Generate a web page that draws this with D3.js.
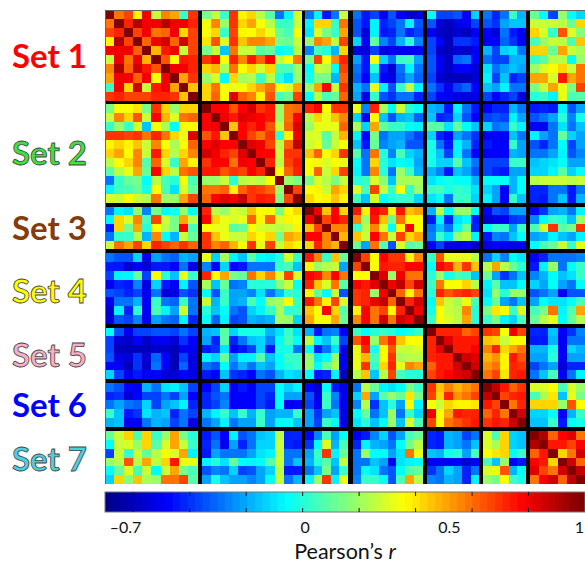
<!DOCTYPE html>
<html>
<head>
<meta charset="utf-8">
<script src="https://cdn.jsdelivr.net/npm/d3@7"></script>
<style>
  html, body { margin: 0; padding: 0; background: #fff; overflow: hidden; }
  svg { display: block; font-family: Lato, "Open Sans", sans-serif; }
</style>
</head>
<body>
<div id="chart"></div>
<script>
const setNames = ['Set 1', 'Set 2', 'Set 3', 'Set 4', 'Set 5', 'Set 6', 'Set 7'];
const setSizes = [10, 11, 5, 8, 6, 5, 6];
const setColors = ['#ff0000', '#3de23d', '#843c0c', '#ffff00', '#f4b0c8', '#0000ff', '#4bd0dc'];
const setOutlined = [false, true, false, true, true, false, true];
const barTickValues = [-0.6, -0.4, -0.2, 0, 0.2, 0.4, 0.6, 0.8];
const barLabelValues = [-0.7, 0, 0.5, 1];

// Correlations. Diagonal blocks hold the upper triangle, the matrix is symmetric.
const b11 = [
  [1, .58, .66, .38, .79, .28, .55, .52, .02, .70],
  [1, .72, .92, .79, .79, .92, .79, .79, .72],
  [1, .68, .79, .60, .62, .79, .43, .68],
  [1, .62, .79, .85, .62, .85, .66],
  [1, .48, .76, .79, .28, .66],
  [1, .64, .36, .75, .72],
  [1, .80, .79, .72],
  [1, .52, .70],
  [1, .46],
  [1]
];
const b12 = [
  [.15, .28, .02, .70, .38, .43, .25, .08, -.28, -.08, .30],
  [.34, .55, .20, .70, .42, .50, .36, .25, .03, .03, .28],
  [.36, .42, .02, .68, .38, .36, .42, .32, .10, .05, .36],
  [.40, .65, .30, .70, .46, .55, .55, .50, .15, .12, .28],
  [.13, .26, -.15, .58, .28, .28, .08, .10, -.06, -.02, .25],
  [.70, .78, .36, .72, .55, .75, .62, .78, .25, .34, .60],
  [.44, .48, .22, .58, .36, .42, .30, .44, .05, .05, .20],
  [.20, .30, -.05, .44, .22, .25, .03, .24, .00, -.10, .20],
  [.42, .58, .36, .33, .36, .44, .50, .60, .36, .30, .50],
  [.42, .62, .36, .82, .62, .55, .37, .64, .05, .12, .66]
];
const b13 = [
  [-.30, -.07, -.45, -.30, .28],
  [-.08, .42, .42, .03, .58],
  [-.10, .30, .13, .02, .50],
  [.20, .55, .50, .24, .68],
  [-.25, .05, .00, -.18, .42],
  [.15, .68, .36, .55, .72],
  [-.05, .28, .24, -.05, .66],
  [-.03, .15, .15, -.18, .62],
  [.20, .52, .78, .28, .70],
  [-.04, .24, .05, .10, .62]
];
const b14 = [
  [-.30, -.45, -.38, -.50, -.35, -.50, -.58, -.56],
  [-.34, -.46, -.07, -.42, -.36, -.30, -.08, -.35],
  [-.33, -.56, -.08, -.45, -.42, -.28, -.42, -.38],
  [-.12, -.48, .12, -.25, -.36, -.18, .00, -.25],
  [-.53, -.55, -.38, -.53, -.50, -.50, -.50, -.50],
  [-.20, -.46, .36, -.12, -.30, .02, .05, -.20],
  [-.30, -.46, .00, -.45, -.55, -.28, -.08, -.28],
  [-.32, -.48, -.15, -.48, -.53, -.32, -.20, -.32],
  [-.18, -.28, .32, -.08, -.34, .02, .28, -.08],
  [-.20, -.52, .02, -.35, -.40, -.28, -.30, -.42]
];
const b15 = [
  [-.06, -.38, -.38, -.33, -.47, -.12],
  [-.35, -.55, -.62, -.52, -.50, -.38],
  [-.50, -.58, -.62, -.55, -.60, -.50],
  [-.36, -.48, -.60, -.40, -.40, -.45],
  [-.38, -.58, -.60, -.55, -.57, -.50],
  [-.33, -.50, -.58, -.32, -.30, -.48],
  [-.35, -.50, -.58, -.48, -.48, -.55],
  [-.38, -.55, -.60, -.62, -.62, -.56],
  [-.30, -.40, -.50, -.36, -.32, -.48],
  [-.36, -.47, -.50, -.52, -.52, -.52]
];
const b16 = [
  [-.30, -.42, -.28, .03, -.18],
  [-.34, -.40, -.22, -.15, -.15],
  [-.48, -.56, -.30, -.45, -.50],
  [-.50, -.47, -.32, -.40, -.50],
  [-.18, -.36, -.12, -.10, -.30],
  [-.30, -.36, -.38, -.17, -.18],
  [-.09, -.30, -.20, -.15, -.20],
  [-.07, -.36, -.15, -.42, -.38],
  [-.15, -.20, -.07, -.28, -.28],
  [-.38, -.48, -.42, -.36, -.52]
];
const b17 = [
  [.10, -.05, -.38, .20, -.05, -.12],
  [.26, .28, .28, .25, .10, .44],
  [.44, .30, .02, .65, .30, .17],
  [.05, .18, .26, .24, .05, .45],
  [.42, .42, .12, .52, .28, .22],
  [.03, .08, .24, .25, -.04, .18],
  [.20, .30, .36, .44, .28, .58],
  [.50, .52, .30, .76, .52, .60],
  [.15, .26, .50, .33, .15, .68],
  [.00, .02, -.08, .33, .05, .08]
];
const b22 = [
  [1, .78, .78, .64, .78, .85, .70, .74, .18, .60, .62],
  [1, .80, .76, .84, .80, .78, .76, .18, .58, .78],
  [1, .46, .78, .72, .78, .64, .28, .62, .82],
  [1, .78, .68, .60, .70, .00, .38, .80],
  [1, .82, .80, .66, .25, .62, .88],
  [1, .78, .78, .28, .70, .70],
  [1, .72, .24, .68, .74],
  [1, .34, .62, .72],
  [1, .20, .15],
  [1, .68],
  [1]
];
const b23 = [
  [.72, .78, .36, .70, .70],
  [.25, .43, .33, .46, .55],
  [.20, .33, .32, .33, .62],
  [.30, .30, .08, .28, .48],
  [.28, .32, .10, .28, .36],
  [.45, .62, .35, .44, .70],
  [.35, .37, .30, .36, .32],
  [.36, .62, .28, .44, .68],
  [.15, .30, .25, .15, .28],
  [.36, .37, .28, .52, .44],
  [.44, .36, .37, .46, .37]
];
const b24 = [
  [.33, -.25, .72, .22, -.06, .26, .00, -.05],
  [-.12, -.50, .35, -.15, -.35, -.17, -.15, -.32],
  [.22, -.14, .52, .12, .03, .03, -.04, -.08],
  [-.08, -.47, .15, -.30, -.20, -.20, -.30, -.38],
  [-.15, -.44, .10, -.25, -.20, -.18, -.35, -.33],
  [.08, -.30, .60, .00, -.25, .05, -.13, -.18],
  [-.05, -.30, .44, .00, -.09, -.06, -.08, -.20],
  [-.08, -.30, .56, .00, -.28, .20, .04, -.18],
  [.00, .02, .30, .17, -.15, .22, .22, .22],
  [.30, .05, .68, .26, .03, .36, .02, .20],
  [.02, -.15, .30, -.05, .00, .02, .02, -.13]
];
const b25 = [
  [-.18, -.20, -.45, -.08, -.30, -.45],
  [-.15, -.42, -.40, -.12, -.35, -.47],
  [.08, .08, -.10, .10, -.05, -.15],
  [-.14, -.42, -.48, -.20, -.28, -.40],
  [-.02, -.30, -.44, -.08, -.18, -.42],
  [-.02, -.15, -.36, -.07, -.30, -.48],
  [-.02, -.12, -.14, .08, -.15, -.28],
  [-.18, -.25, -.45, -.15, -.20, -.35],
  [-.10, -.05, -.03, -.05, -.05, -.18],
  [.03, .06, -.03, .03, .00, -.10],
  [-.10, -.05, -.30, .03, .03, -.12]
];
const b26 = [
  [-.47, -.42, -.42, -.18, -.30],
  [-.36, -.35, -.38, -.08, -.20],
  [-.14, -.28, -.25, .03, -.08],
  [-.50, -.48, -.47, -.15, -.30],
  [-.44, -.48, -.47, .02, -.20],
  [-.50, -.48, -.47, -.18, -.20],
  [-.36, -.36, -.36, .03, .03],
  [-.36, -.42, -.44, -.20, -.20],
  [-.05, -.05, -.05, -.18, -.04],
  [-.12, -.22, -.50, -.18, -.05],
  [-.08, -.20, -.48, .02, -.15]
];
const b27 = [
  [-.45, -.42, -.45, -.07, -.33, -.20],
  [-.35, -.30, -.20, .00, -.25, -.03],
  [-.48, -.50, -.30, -.10, -.28, -.15],
  [-.07, -.22, -.30, .12, -.12, -.20],
  [-.33, -.42, -.28, -.05, -.38, -.20],
  [-.30, -.30, -.20, -.07, -.35, -.25],
  [-.15, -.12, -.10, -.06, -.20, -.20],
  [-.12, -.13, -.08, .08, -.12, -.06],
  [.25, .27, .27, .27, .25, .27],
  [-.42, -.42, -.30, -.28, -.44, -.30],
  [-.42, -.44, -.30, -.15, -.45, -.18]
];
const b33 = [
  [1, .80, .45, .78, .43],
  [1, .66, .78, .72],
  [1, .55, .55],
  [1, .47],
  [1]
];
const b34 = [
  [.75, .38, .78, .72, .37, .75, .45, .52],
  [.55, .18, .76, .46, .12, .58, .36, .36],
  [.04, .25, .55, .30, -.04, .38, .78, .36],
  [.45, .26, .78, .58, .28, .66, .44, .52],
  [.12, -.20, .58, .08, -.35, .30, .08, .10]
];
const b35 = [
  [-.18, .25, -.05, .18, .18, -.06],
  [-.45, -.08, -.42, -.10, -.05, -.45],
  [-.28, -.15, -.30, -.05, .10, -.42],
  [-.25, .02, -.10, .20, .25, -.07],
  [-.48, -.38, -.52, -.52, -.50, -.60]
];
const b36 = [
  [-.48, -.35, -.38, -.20, -.20],
  [-.58, -.52, -.50, -.40, -.38],
  [-.05, .03, .03, -.20, .02],
  [-.45, -.25, -.28, -.15, -.05],
  [-.52, -.50, -.50, -.52, -.52]
];
const b37 = [
  [-.47, -.40, -.20, -.18, -.28, -.08],
  [-.25, -.05, .03, .00, -.15, .18],
  [.05, .30, .70, .08, .14, .70],
  [-.20, -.18, -.08, -.15, -.22, -.07],
  [-.04, .05, .12, .28, .04, .33]
];
const b44 = [
  [1, .68, .36, .78, .70, .70, .38, .55],
  [1, .36, .74, .72, .72, .78, .78],
  [1, .82, .20, .80, .58, .58],
  [1, .80, .88, .66, .85],
  [1, .62, .38, .60],
  [1, .72, .85],
  [1, .80],
  [1]
];
const b45 = [
  [.03, .65, .33, .33, .33, .25],
  [-.05, .78, .72, .48, .70, .45],
  [.00, .20, -.02, .05, .04, -.15],
  [.03, .58, .36, .36, .42, .25],
  [.00, .72, .64, .70, .72, .68],
  [-.05, .46, .28, .22, .32, .05],
  [-.02, .34, .28, .25, .55, .00],
  [.03, .36, .30, .25, .52, .00]
];
const b46 = [
  [-.30, -.12, -.25, -.05, -.10],
  [.25, .50, .24, .10, .00],
  [.12, -.20, -.40, -.30, -.15],
  [-.07, .08, -.15, -.15, -.06],
  [-.10, .20, .00, .18, .18],
  [-.05, .10, -.20, -.30, -.15],
  [.15, .40, .34, .03, .30],
  [.03, .15, -.07, -.12, .05]
];
const b47 = [
  [-.50, -.42, -.30, -.30, -.30, -.25],
  [-.45, -.08, .20, -.30, -.05, .03],
  [-.25, -.18, -.05, -.15, -.10, .03],
  [-.12, -.20, -.05, -.22, -.30, -.05],
  [-.35, -.30, -.20, -.50, -.35, -.35],
  [-.20, -.05, -.10, -.10, -.05, .05],
  [.05, .15, .58, -.08, .08, .52],
  [.12, .25, .32, -.05, .10, .25]
];
const b55 = [
  [1, .72, .72, .72, .62, .68],
  [1, .84, .74, .74, .76],
  [1, .76, .76, .78],
  [1, .86, .82],
  [1, .85],
  [1]
];
const b56 = [
  [.70, .66, .36, .80, .68],
  [.46, .44, .28, .36, .36],
  [.55, .72, .44, .52, .60],
  [.48, .54, .38, .76, .64],
  [.54, .60, .37, .72, .70],
  [.60, .68, .40, .72, .74]
];
const b57 = [
  [-.42, -.42, -.15, -.50, -.40, -.25],
  [-.44, -.44, -.18, -.50, -.30, -.30],
  [-.18, -.18, -.02, -.50, -.12, -.18],
  [-.20, -.20, .00, -.50, -.20, -.20],
  [-.36, -.30, -.20, -.55, -.42, -.42],
  [-.30, -.15, .05, -.50, -.30, -.08]
];
const b66 = [
  [1, .88, .76, .62, .70],
  [1, .66, .72, .75],
  [1, .58, .72],
  [1, .86],
  [1]
];
const b67 = [
  [.30, .30, .36, .05, .30, .20],
  [.05, .22, .40, -.15, .32, .15],
  [.44, .44, .42, .18, .65, .36],
  [-.12, -.12, -.06, -.50, -.17, .04],
  [-.15, -.15, .03, -.45, -.05, -.02]
];
const b77 = [
  [1, .90, .62, .78, .82, .58],
  [1, .76, .75, .68, .78],
  [1, .42, .60, .85],
  [1, .85, .62],
  [1, .88],
  [1]
];

const blocks = [
  [b11, b12, b13, b14, b15, b16, b17],
  [null, b22, b23, b24, b25, b26, b27],
  [null, null, b33, b34, b35, b36, b37],
  [null, null, null, b44, b45, b46, b47],
  [null, null, null, null, b55, b56, b57],
  [null, null, null, null, null, b66, b67],
  [null, null, null, null, null, null, b77]
];

const width = 585, height = 564;
// the blocks are not quite the same size in the original, so each gets its own band
const colExtents = [[105, 197.7], [202, 301.7], [305, 348], [352.7, 422.7], [427, 479.3], [483.3, 525.7], [530, 585]];
const rowExtents = [[10, 100.7], [104.3, 203], [206.7, 249], [253.3, 323.7], [327.7, 379], [383, 426.7], [431, 484]];
const labelBaselines = [68, 165, 240, 303, 367, 417, 471];

const colBands = setSizes.map((n, k) => d3.scaleBand().domain(d3.range(n)).range(colExtents[k]));
const rowBands = setSizes.map((n, k) => d3.scaleBand().domain(d3.range(n)).range(rowExtents[k]));

// jet, 64 steps, linear in r
const jet = d3.scaleLinear()
  .domain([0, 1 / 8, 3 / 8, 5 / 8, 7 / 8, 1])
  .range(['rgb(0,0,143)', 'rgb(0,0,255)', 'rgb(0,255,255)', 'rgb(255,255,0)', 'rgb(255,0,0)', 'rgb(128,0,0)']);
const color = d3.scaleQuantize().domain([-0.7, 1]).range(d3.quantize(jet, 64));

// expand the blocks into cells, mirrored across the diagonal
const cells = [];
blocks.forEach((line, a) => line.forEach((block, b) => {
  if (!block) return;
  block.forEach((vals, i) => vals.forEach((v, j) => {
    const col = a === b ? i + j : j;
    cells.push({ a, b, row: i, col, v });
    if (a !== b || col !== i) cells.push({ a: b, b: a, row: col, col: i, v });
  }));
}));

const svg = d3.select('#chart').append('svg')
  .attr('width', width)
  .attr('height', height);

const defs = svg.append('defs');
defs.append('filter').attr('id', 'soft')
  .attr('x', 0).attr('y', 0).attr('width', 1).attr('height', 1)
  .append('feGaussianBlur').attr('stdDeviation', 0.5);

// matrix
const matrix = svg.append('g');
matrix.append('rect')
  .attr('x', 105).attr('y', 10)
  .attr('width', 480).attr('height', 474)
  .attr('fill', '#000');

matrix.append('g')
  .attr('filter', 'url(#soft)')
  .selectAll('rect')
  .data(cells)
  .enter().append('rect')
  .attr('x', d => colBands[d.b](d.col))
  .attr('y', d => rowBands[d.a](d.row))
  .attr('width', d => colBands[d.b].bandwidth())
  .attr('height', d => rowBands[d.a].bandwidth())
  .attr('shape-rendering', 'crispEdges')
  .attr('fill', d => color(d.v));

matrix.append('path')
  .attr('d', 'M105.5,484V10.5H585')
  .attr('fill', 'none')
  .attr('stroke', '#666');

// set labels
svg.append('g').selectAll('text')
  .data(setNames)
  .enter().append('text')
  .attr('x', 12)
  .attr('y', (d, i) => labelBaselines[i])
  .attr('font-size', 33)
  .attr('font-weight', 700)
  .attr('fill', (d, i) => setColors[i])
  .attr('stroke', (d, i) => setOutlined[i] ? '#444' : 'none')
  .attr('stroke-width', 0.8)
  .text(d => d);

// colour bar
const barX = d3.scaleLinear().domain([-0.7, 1]).range([105, 585]);
const barTop = 492, barBottom = 512;
const bar = svg.append('g');

bar.selectAll('rect')
  .data(color.range())
  .enter().append('rect')
  .attr('x', d => barX(color.invertExtent(d)[0]))
  .attr('y', barTop)
  .attr('width', d => barX(color.invertExtent(d)[1]) - barX(color.invertExtent(d)[0]) + 0.5)
  .attr('height', barBottom - barTop)
  .attr('fill', d => d);

bar.append('rect')
  .attr('x', 105).attr('y', barTop)
  .attr('width', 480).attr('height', barBottom - barTop)
  .attr('fill', 'none')
  .attr('stroke', '#777');

bar.selectAll('.tick-top')
  .data(barTickValues)
  .enter().append('line')
  .attr('class', 'tick-top')
  .attr('x1', d => barX(d)).attr('x2', d => barX(d))
  .attr('y1', barTop).attr('y2', barTop + 4)
  .attr('stroke', '#111');

bar.selectAll('.tick-bottom')
  .data(barTickValues)
  .enter().append('line')
  .attr('class', 'tick-bottom')
  .attr('x1', d => barX(d)).attr('x2', d => barX(d))
  .attr('y1', barBottom - 4).attr('y2', barBottom)
  .attr('stroke', '#111');

const barAxis = d3.axisBottom(barX)
  .tickValues(barLabelValues)
  .tickSize(0)
  .tickPadding(0)
  .tickFormat(d => d < 0 ? '\u2013' + Math.abs(d) : d);

// the end labels sit inside the bar ends in the original
const labelNudge = { '-0.7': 20, '0': 2, '0.5': 5, '1': -6 };
svg.append('g')
  .attr('transform', `translate(0,${barBottom})`)
  .call(barAxis)
  .call(g => g.select('.domain').remove())
  .selectAll('text')
  .attr('y', 21)
  .attr('dy', 0)
  .attr('dx', d => labelNudge[d])
  .attr('font-family', 'Lato, "Open Sans", sans-serif')
  .attr('font-size', 16)
  .attr('fill', '#111');

const axisTitle = svg.append('text')
  .attr('x', 345)
  .attr('y', 559)
  .attr('text-anchor', 'middle')
  .attr('font-size', 21.5)
  .attr('fill', '#111')
  .text('Pearson\u2019s ');
axisTitle.append('tspan')
  .attr('font-style', 'italic')
  .text('r');
</script>
</body>
</html>
